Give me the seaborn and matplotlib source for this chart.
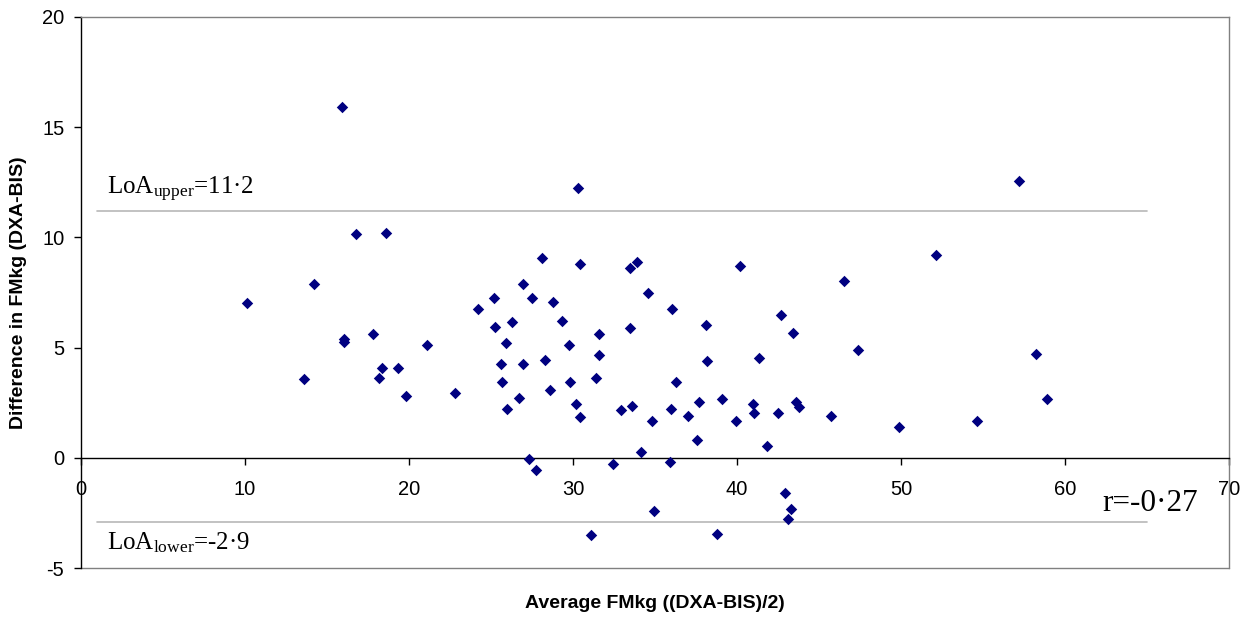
import matplotlib
matplotlib.use("Agg")
import matplotlib.pyplot as plt
import seaborn as sns
import pandas as pd

# Data
avg_fm = [10.1, 13.6, 14.2, 15.9, 16.05, 16.05, 16.75, 17.8, 18.15, 18.35,
          18.6, 19.35, 19.8, 21.1, 22.8, 24.2, 25.2, 25.25, 25.6, 25.7,
          25.9, 26.0, 26.3, 26.7, 26.95, 26.95, 27.3, 27.5, 27.75, 28.1,
          28.3, 28.6, 28.8, 29.3, 29.75, 29.8, 30.2, 30.3, 30.4, 30.4,
          31.1, 31.4, 31.6, 31.6, 32.45, 32.9, 33.5, 33.5, 33.6, 33.9,
          34.15, 34.6, 34.8, 34.95, 35.9, 36.0, 36.05, 36.3, 37.0, 37.55,
          37.7, 38.1, 38.2, 38.8, 39.1, 39.95, 40.2, 40.95, 41.05, 41.35,
          41.85, 42.5, 42.7, 42.9, 43.1, 43.3, 43.4, 43.6, 43.8, 45.75,
          46.5, 47.4, 49.85, 52.15, 54.65, 57.2, 58.25, 58.9]
diff_fm = [7.03, 3.58, 7.9, 15.93, 5.37, 5.27, 10.14, 5.62, 3.64, 4.08,
           10.19, 4.08, 2.82, 5.11, 2.93, 6.74, 7.25, 5.95, 4.25, 3.42,
           5.23, 2.22, 6.15, 2.7, 7.9, 4.25, -0.07, 7.25, -0.57, 9.06,
           4.45, 3.08, 7.07, 6.2, 5.11, 3.42, 2.43, 12.26, 8.78, 1.84,
           -3.52, 3.64, 5.6, 4.67, -0.29, 2.16, 8.6, 5.87, 2.34, 8.89,
           0.25, 7.5, 1.67, -2.42, -0.18, 2.22, 6.74, 3.42, 1.9, 0.8,
           2.55, 6.04, 4.41, -3.48, 2.65, 1.68, 8.68, 2.44, 2.04, 4.51,
           0.52, 2.05, 6.49, -1.61, -2.77, -2.31, 5.65, 2.51, 2.29, 1.89,
           8.0, 4.9, 1.39, 9.2, 1.66, 12.55, 4.73, 2.66]

loa_upper = 11.2
loa_lower = -2.9
loa_x_range = [1, 65]
x_ticks = [0, 10, 20, 30, 40, 50, 60, 70]
y_ticks = [-5, 0, 5, 10, 15, 20]
x_label = "Average FMkg ((DXA-BIS)/2)"
y_label = "Difference in FMkg (DXA-BIS)"
upper_text = r"LoA$_{\mathrm{upper}}$=11·2"
lower_text = r"LoA$_{\mathrm{lower}}$=-2·9"
r_text = "r=-0·27"

df = pd.DataFrame({"avg": avg_fm, "diff": diff_fm})

sns.set_theme(style="white")
plt.rcParams["font.family"] = ["Liberation Sans", "DejaVu Sans"]
plt.rcParams["mathtext.fontset"] = "custom"
plt.rcParams["mathtext.rm"] = "Liberation Serif"
plt.rcParams["mathtext.it"] = "Liberation Serif:italic"
plt.rcParams["mathtext.bf"] = "Liberation Serif:bold"
for key in ["text.color", "axes.labelcolor", "xtick.color", "ytick.color",
            "xtick.labelcolor", "ytick.labelcolor"]:
    plt.rcParams[key] = "black"

fig = plt.figure(figsize=(12.53, 6.24), dpi=100)
ax = fig.add_axes([81 / 1253, 1 - 568 / 624, (1229 - 81) / 1253, (568 - 17) / 624])

sns.scatterplot(data=df, x="avg", y="diff", marker="D", color="#000080",
                s=34, linewidth=0, ax=ax, zorder=3, legend=False)

ax.set_xlim(0, 70)
ax.set_ylim(-5, 20)

# LoA lines
ax.plot(loa_x_range, [loa_upper, loa_upper], color="#b8b8b8", lw=1.2, zorder=2)
ax.plot(loa_x_range, [loa_lower, loa_lower], color="#b8b8b8", lw=1.2, zorder=2)

# Spines
ax.spines["bottom"].set_position(("data", 0))
ax.spines["bottom"].set_color("black")
ax.spines["bottom"].set_linewidth(1.0)
ax.spines["left"].set_color("black")
ax.spines["left"].set_linewidth(1.0)
for s in ["top", "right"]:
    ax.spines[s].set_color("#808080")
    ax.spines[s].set_linewidth(1.0)
ax.axhline(-5, color="#808080", lw=1.0, clip_on=False, zorder=1)

ax.set_xticks(x_ticks)
ax.set_yticks(y_ticks)
ax.set_xticklabels([str(t) for t in x_ticks])
ax.set_yticklabels([str(t) for t in y_ticks])
ax.tick_params(axis="x", direction="out", length=5, width=1, color="black",
               labelcolor="black", pad=11, labelsize=14.5, bottom=True)
ax.tick_params(axis="y", direction="out", length=5, width=1, color="black",
               labelcolor="black", pad=7, labelsize=14.5, left=True)

ax.set_xlabel("")
ax.set_ylabel("")
fig.text((81 + 1229) / 2 / 1253, 1 - 604 / 624, x_label, ha="center", va="center",
         fontsize=14, fontweight="bold", color="black")
fig.text(19 / 1253, 1 - ((17 + 568) / 2) / 624, y_label, ha="center", va="center",
         rotation=90, fontsize=14, fontweight="bold", color="black")

ax.text(1.6, 11.93, upper_text, fontsize=18, family="Liberation Serif",
        ha="left", va="baseline", color="black")
ax.text(1.6, -4.17, lower_text, fontsize=18, family="Liberation Serif",
        ha="left", va="baseline", color="black")
ax.text(62.3, -2.43, r_text, fontsize=22.5, family="Liberation Serif",
        ha="left", va="baseline", color="black")

fig.savefig("out.png", dpi=100)
